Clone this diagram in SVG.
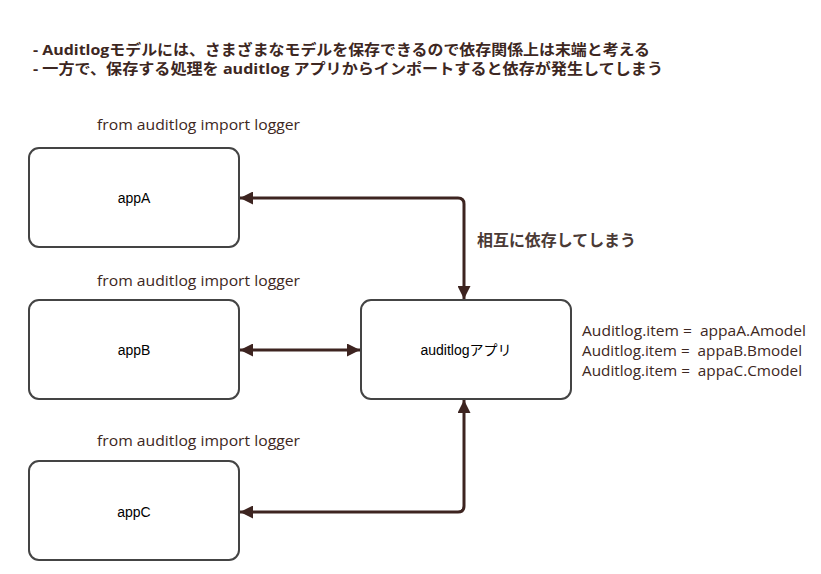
<svg xmlns="http://www.w3.org/2000/svg" width="821" height="574" viewBox="0 0 821 574">
<style>
.box{fill:#fff;stroke:#444;stroke-width:2}
.lbl{font-family:"Liberation Sans",Arial,"Noto Sans CJK JP",sans-serif;font-size:14px;fill:#000;text-anchor:middle}
.note{font-family:"Open Sans","Noto Sans","Noto Sans CJK JP",sans-serif;font-size:14px;fill:#3d2722;white-space:pre}
.head{font-family:"Open Sans","Noto Sans CJK JP",sans-serif;font-size:15px;font-weight:bold;fill:#3d2722}
.conn{fill:none;stroke:#3d2420;stroke-width:3}
.cl{font-family:"Noto Sans CJK JP",sans-serif;font-size:16px;font-weight:bold;fill:#4a3a36}
</style>
<defs>
<marker id="ah" viewBox="0 0 12 12" refX="12" refY="6" markerWidth="13" markerHeight="13" markerUnits="userSpaceOnUse" orient="auto-start-reverse">
<path d="M0,0 L12,6 L0,12 Z" fill="#3d2420"/>
</marker>
</defs>
<rect width="821" height="574" fill="#fff"/>
<g id="header">
<text class="head" x="33" y="55" textLength="617" lengthAdjust="spacingAndGlyphs">- Auditlogモデルには、さまざまなモデルを保存できるので依存関係上は末端と考える</text>
<text class="head" x="33" y="74" textLength="630" lengthAdjust="spacingAndGlyphs">- 一方で、保存する処理を auditlog アプリからインポートすると依存が発生してしまう</text>
</g>
<g id="connectors">
<path class="conn" d="M240,198 H458 Q464,198 464,204 V299" marker-start="url(#ah)" marker-end="url(#ah)"/>
<path class="conn" d="M240,350 H360" marker-start="url(#ah)" marker-end="url(#ah)"/>
<path class="conn" d="M240,512 H458 Q464,512 464,506 V400" marker-start="url(#ah)" marker-end="url(#ah)"/>
<text class="cl" x="477" y="246" textLength="159" lengthAdjust="spacingAndGlyphs">相互に依存してしまう</text>
</g>
<g id="appA">
<text class="note" x="97" y="130" textLength="203" lengthAdjust="spacingAndGlyphs">from auditlog import logger</text>
<rect class="box" x="29" y="148" width="210" height="99" rx="10"/>
<text class="lbl" x="134" y="203">appA</text>
</g>
<g id="appB">
<text class="note" x="97" y="286" textLength="203" lengthAdjust="spacingAndGlyphs">from auditlog import logger</text>
<rect class="box" x="29" y="300" width="210" height="99" rx="10"/>
<text class="lbl" x="134" y="355">appB</text>
</g>
<g id="appC">
<text class="note" x="97" y="446" textLength="203" lengthAdjust="spacingAndGlyphs">from auditlog import logger</text>
<rect class="box" x="29" y="461" width="210" height="99" rx="10"/>
<text class="lbl" x="134" y="517">appC</text>
</g>
<g id="auditlog">
<rect class="box" x="361" y="300" width="210" height="99" rx="10"/>
<text class="lbl" x="466" y="355">auditlogアプリ</text>
<text class="note" x="582" y="336" xml:space="preserve" textLength="224" lengthAdjust="spacingAndGlyphs">Auditlog.item =  appaA.Amodel</text>
<text class="note" x="582" y="356" xml:space="preserve" textLength="220" lengthAdjust="spacingAndGlyphs">Auditlog.item =  appaB.Bmodel</text>
<text class="note" x="582" y="376" xml:space="preserve" textLength="220" lengthAdjust="spacingAndGlyphs">Auditlog.item =  appaC.Cmodel</text>
</g>
</svg>
